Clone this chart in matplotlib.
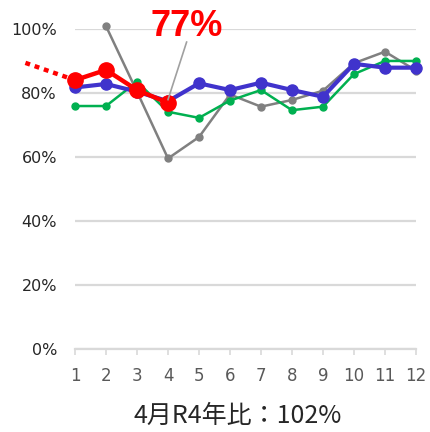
import numpy as np
import matplotlib
matplotlib.use("Agg")
import matplotlib.pyplot as plt

plt.rcParams['font.family'] = ['DejaVu Sans']

months = [1, 2, 3, 4, 5, 6, 7, 8, 9, 10, 11, 12]
# monthly ratios in %, one list per year
gray_vals = [np.nan, 101, 80.5, 59.6, 66.3, 79.6, 75.8, 77.9, 80.8, 89.4, 93.0, 87.1]
green_vals = [76, 76, 83.6, 74.2, 72.3, 77.7, 81, 74.7, 75.8, 86, 90.1, 90.1]
blue_vals = [81.8, 82.9, 80.5, 77.5, 83.1, 81, 83.3, 81, 78.9, 89.2, 88, 88]
red_vals = [84.1, 87.3, 81, 77]
# carry-over from previous December, drawn dotted
prev_x = [-0.6, 1]
prev_vals = [89.5, 84.1]

label_val = red_vals[3]
title = "4月R4年比：102%"

fig = plt.figure(figsize=(4.3, 4.32), dpi=100)
ax = fig.add_axes([75/430, 1-349/432, 341/430, (349-29.3)/432])

ax.plot(months, gray_vals, color="#808080", lw=1.8, marker="o", ms=5, clip_on=False, zorder=3)
ax.plot(months, green_vals, color="#00B050", lw=1.8, marker="o", ms=5, clip_on=False, zorder=4)
ax.plot(months, blue_vals, color="#4033CC", lw=3, marker="o", ms=8, clip_on=False, zorder=5)
ax.plot(prev_x, prev_vals, color="#FF0000", lw=3.2, ls=(0, (1.1, 1.1)), clip_on=False, zorder=6)
ax.plot(months[:4], red_vals, color="#FF0000", lw=3.2, marker="o", ms=11, clip_on=False, zorder=7)

# callout for the latest month
ax.plot([4, 4.6], [label_val + 1, 96], color="#A0A0A0", lw=1.2, clip_on=False, zorder=8)
ax.text(4.6, 101, f"{label_val:.0f}%", color="#FF0000", fontsize=26, fontweight="bold",
        family=["Liberation Sans"], ha="center", va="center", clip_on=False)

ax.set_xlim(1, 12)
ax.set_ylim(0, 100)
ax.set_xticks(months)
ax.set_yticks([0, 20, 40, 60, 80, 100])
ax.set_yticklabels([f"{v}%" for v in range(0, 101, 20)])
ax.grid(axis="y", color="#D9D9D9", lw=1.6)
ax.set_axisbelow(True)
for s in ["top", "right", "left"]:
    ax.spines[s].set_visible(False)
ax.spines["bottom"].set_color("#D9D9D9")
ax.spines["bottom"].set_linewidth(1.6)
ax.tick_params(axis="x", colors="#D9D9D9", length=4, width=1.2, labelcolor="#595959",
               labelsize=12, pad=9)
ax.tick_params(axis="y", length=0, labelsize=11.5, labelcolor="#262626", pad=13)

fig.text(238/430, 1-416/432, title, ha="center", va="center", fontsize=18,
         family=["Noto Sans CJK JP", "DejaVu Sans"], color="#262626")

fig.savefig("out.png", dpi=100)
